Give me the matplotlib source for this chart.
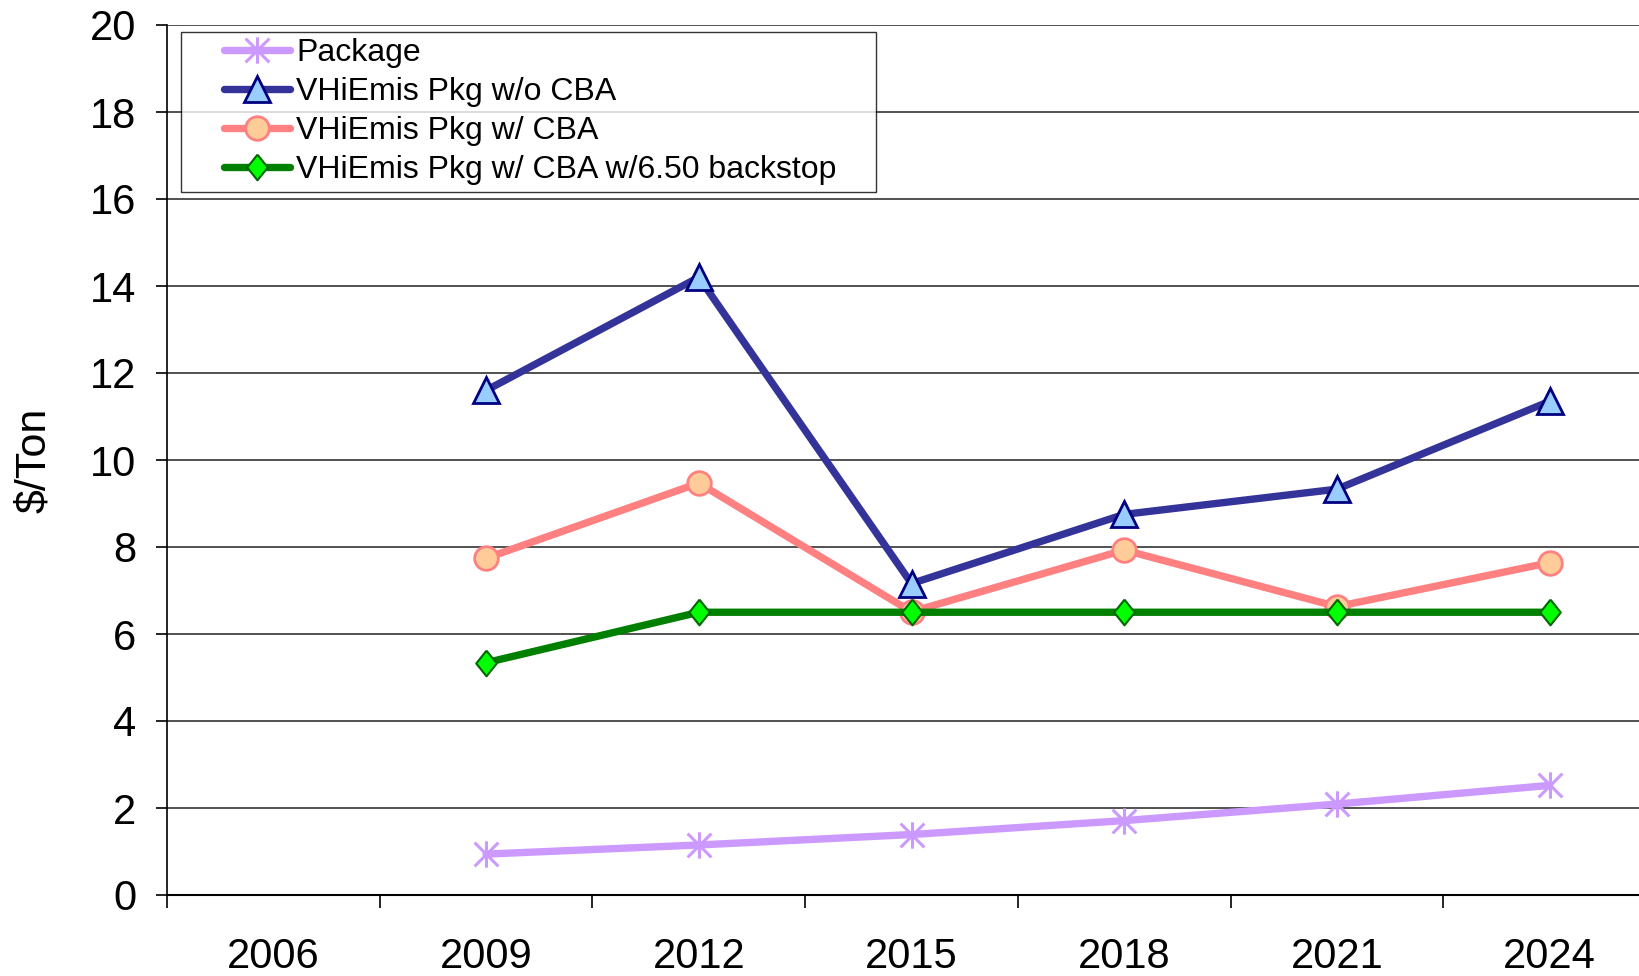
import numpy as np
import matplotlib.pyplot as plt
from matplotlib.path import Path
from matplotlib.legend_handler import HandlerLine2D

plt.rcParams['font.family'] = ['Liberation Sans', 'DejaVu Sans']

years = ["2006", "2009", "2012", "2015", "2018", "2021", "2024"]
data_years = ["2009", "2012", "2015", "2018", "2021", "2024"]
package = [0.94, 1.15, 1.39, 1.71, 2.09, 2.52]
wo_cba = [11.6, 14.2, 7.16, 8.75, 9.33, 11.35]
w_cba = [7.74, 9.47, 6.51, 7.93, 6.63, 7.64]
backstop = [5.34, 6.5, 6.5, 6.5, 6.5, 6.5]

x = np.array([years.index(y) for y in data_years])

# excel style asterisk (vertical bar + x) and tall diamond
star = Path([(0, -1), (0, 1), (-0.9, -0.9), (0.9, 0.9), (-0.9, 0.9), (0.9, -0.9)],
            [Path.MOVETO, Path.LINETO, Path.MOVETO, Path.LINETO, Path.MOVETO, Path.LINETO])
diamond = [(0, 1), (0.8, 0), (0, -1), (-0.8, 0), (0, 1)]

fig = plt.figure(figsize=(16.39, 9.76), dpi=100)
ax = fig.add_axes([167/1639, 1-895/976, 1-167/1639, (895-25)/976])

lw = 5.3
style = dict(lw=lw, solid_capstyle="round", solid_joinstyle="round")
ax.plot(x, package, color="#CC99FF", marker=star, ms=19, mew=2.2,
        mec="#CC99FF", mfc="none", label="Package", **style)
ax.plot(x, wo_cba, color="#333399", marker="^", ms=18.5, mfc="#99CCFF",
        mec="#000080", mew=2, label="VHiEmis Pkg w/o CBA", **style)
ax.plot(x, w_cba, color="#FF8080", marker="o", ms=17, mfc="#FFCC99",
        mec="#FF8080", mew=2, label="VHiEmis Pkg w/ CBA", **style)
ax.plot(x, backstop, color="#008000", marker=diamond, ms=18.5, mfc="#00FF00",
        mec="#006600", mew=1.5, label="VHiEmis Pkg w/ CBA w/6.50 backstop", **style)

ax.set_ylim(0, 20)
ax.set_yticks(np.arange(0, 21, 2))
ax.set_xticks(np.arange(-0.5, 7, 1))
ax.set_xticklabels([])
ax.set_xticks(np.arange(len(years)), minor=True)
ax.set_xticklabels(years, minor=True)
ax.set_xlim(-0.5, 6.42)
ax.tick_params(axis="x", which="major", length=9, width=1.2, direction="out")
ax.tick_params(axis="x", which="minor", length=0, pad=30, labelsize=30)
ax.tick_params(axis="y", length=8, width=1.2, pad=14, labelsize=30)

ax.grid(axis="y", color="#333333", lw=1.2)
ax.set_axisbelow(True)
for s in ["top", "right"]:
    ax.spines[s].set_visible(False)
ax.spines["left"].set_linewidth(1.2)
ax.spines["bottom"].set_linewidth(1.5)

ax.set_ylabel("$/Ton", fontsize=31)
ax.yaxis.set_label_coords(-0.077, 0.5)

fs = 23
leg = ax.legend(loc="upper left", bbox_to_anchor=(181/1639, 1-191/976, (876-181)/1639, (191-32)/976),
                bbox_transform=fig.transFigure, mode="expand", borderaxespad=0,
                fontsize=fs, frameon=True, fancybox=False, edgecolor="black",
                handlelength=3.2, handletextpad=0.2, labelspacing=0.28, borderpad=0.2,
                handler_map={ln: HandlerLine2D(xpad=1.15) for ln in ax.get_lines()})
leg.get_frame().set_linewidth(1.0)

fig.savefig("out.png", dpi=100)
